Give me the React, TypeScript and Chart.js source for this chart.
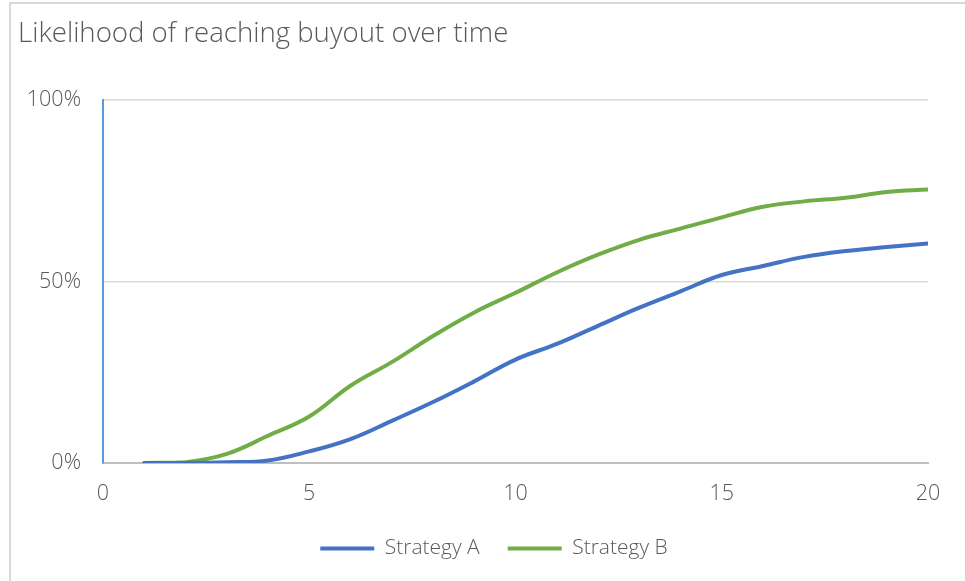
import React, { useEffect, useRef } from "react";
import { Chart, registerables } from "chart.js";

Chart.register(...registerables);

const years = [1, 2, 3, 4, 5, 6, 7, 8, 9, 10, 11, 12, 13, 14, 15, 16, 17, 18, 19, 20];
const strategyA = [0, 0, 0.2, 0.7, 3.2, 6.6, 11.6, 16.8, 22.5, 28.5, 32.8, 37.8, 42.8, 47.3, 51.8, 54.3, 56.8, 58.4, 59.5, 60.5];
const strategyB = [0, 0.2, 2.5, 7.5, 12.8, 21.3, 27.8, 35, 41.5, 46.9, 52.5, 57.4, 61.5, 64.6, 67.7, 70.6, 72.1, 73.1, 74.7, 75.4];
const yTicks = [0, 50, 100];
const xTicks = [0, 5, 10, 15, 20];
const title = "Likelihood of reaching buyout over time";

const FONT = "'Open Sans', sans-serif";
const GREY = "#595959";

const shiftLegend = {
  id: "shiftLegend",
  afterLayout(chart: any) {
    const lg = chart.legend;
    if (lg) {
      lg.left += 21;
      lg.right += 21;
    }
  },
};

export default function App() {
  const ref = useRef<HTMLCanvasElement | null>(null);

  useEffect(() => {
    if (!ref.current) return;
    const chart = new Chart(ref.current, {
      type: "line",
      plugins: [shiftLegend],
      data: {
        datasets: [
          {
            label: "Strategy A",
            data: years.map((x, i) => ({ x, y: strategyA[i] })),
            borderColor: "#4472C4",
            backgroundColor: "#4472C4",
            borderWidth: 4,
            pointRadius: 0,
            tension: 0.4,
            borderCapStyle: "round",
          },
          {
            label: "Strategy B",
            data: years.map((x, i) => ({ x, y: strategyB[i] })),
            borderColor: "#70AD47",
            backgroundColor: "#70AD47",
            borderWidth: 4,
            pointRadius: 0,
            tension: 0.4,
            borderCapStyle: "round",
          },
        ],
      },
      options: {
        responsive: false,
        animation: false,
        layout: { padding: { left: 18, right: 37, top: 2, bottom: 12 } },
        plugins: {
          title: {
            display: true,
            text: title,
            align: "start",
            color: GREY,
            font: { family: FONT, size: 27.6, weight: 300 },
            padding: { top: 16, bottom: 49 },
          },
          legend: {
            position: "bottom",
            labels: {
              usePointStyle: true,
              pointStyle: "line",
              pointStyleWidth: 54,
              color: GREY,
              font: { family: FONT, size: 21, weight: 300 },
              padding: 28,
            },
          },
          tooltip: { enabled: false },
        },
        scales: {
          x: {
            type: "linear",
            min: 0,
            max: 20,
            afterBuildTicks: (s: any) => {
              s.ticks = xTicks.map((v) => ({ value: v }));
            },
            afterFit: (s: any) => {
              s.height = 47;
            },
            ticks: { color: GREY, font: { family: FONT, size: 21.5, weight: 300 }, padding: 18 },
            grid: { display: false, drawTicks: false },
            border: { display: true, color: "#bfbfbf", width: 2 },
          },
          y: {
            min: 0,
            max: 100,
            afterBuildTicks: (s: any) => {
              s.ticks = yTicks.map((v) => ({ value: v }));
            },
            afterFit: (s: any) => {
              s.width = 85;
            },
            ticks: {
              color: GREY,
              font: { family: FONT, size: 21.5, weight: 300 },
              padding: 22,
              callback: (v: any) => v + "%",
            },
            grid: { color: "#d9d9d9", lineWidth: 1.5, drawTicks: false },
            border: { display: true, color: "#5b9bd5", width: 2 },
          },
        },
      },
    } as any);
    return () => chart.destroy();
  }, []);

  return (
    <div style={{ position: "absolute", left: 0, top: 0, width: 965, height: 581, background: "#fff", overflow: "hidden" }}>
      <div
        style={{
          position: "absolute",
          left: 9,
          top: 2,
          width: 1000,
          height: 600,
          borderLeft: "2px solid #d9d9d9",
          borderTop: "2px solid #d9d9d9",
        }}
      />
      <canvas ref={ref} width={965} height={581} style={{ position: "absolute", left: 0, top: 0 }} />
    </div>
  );
}
